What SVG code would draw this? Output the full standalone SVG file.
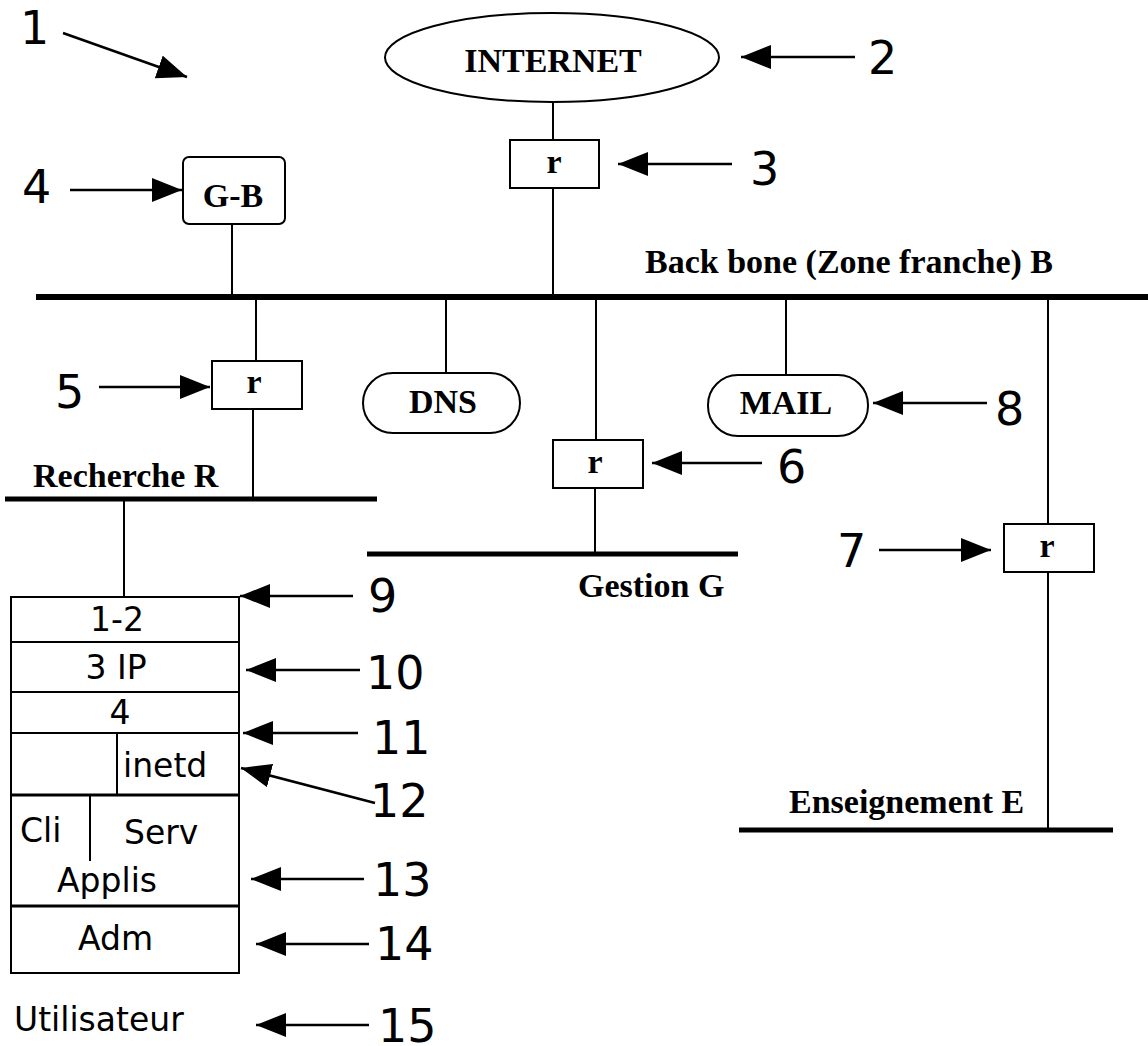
<svg xmlns="http://www.w3.org/2000/svg" width="1148" height="1046" viewBox="0 0 1148 1046">
<style>
  .thin { stroke: #000; stroke-width: 2; fill: none; }
  .bus { stroke: #000; stroke-width: 5; fill: none; }
  .box { stroke: #000; stroke-width: 2; fill: #fff; }
  .arr { stroke: #000; stroke-width: 2.5; fill: none; marker-end: url(#head); }
  .lbl { font-family: "Liberation Serif", "Times New Roman", serif; font-weight: bold; font-size: 34px; fill: #000; }
  .num { font-family: "DejaVu Sans", "Liberation Sans", sans-serif; font-size: 46px; fill: #000; }
  .stk { font-family: "DejaVu Sans", "Liberation Sans", sans-serif; font-size: 33px; fill: #000; }
  .mid { text-anchor: middle; }
</style>
<defs>
  <marker id="head" markerUnits="userSpaceOnUse" markerWidth="30" markerHeight="24" viewBox="0 0 30 24" refX="30" refY="12" orient="auto">
    <path d="M0,0 L30,12 L0,24 Z" fill="#000"/>
  </marker>
</defs>
<rect width="1148" height="1046" fill="#fff"/>

<g id="networks">
  <g id="backbone">
    <line class="bus" x1="36" y1="297" x2="1148" y2="297" style="stroke-width:6"/>
    <text class="lbl" x="645" y="273">Back bone (Zone franche) B</text>
  </g>
  <g id="recherche">
    <line class="bus" x1="5" y1="499" x2="377" y2="499"/>
    <text class="lbl" x="33" y="487">Recherche R</text>
  </g>
  <g id="gestion">
    <line class="bus" x1="367" y1="554" x2="738" y2="554"/>
    <text class="lbl" x="578" y="597">Gestion G</text>
  </g>
  <g id="enseignement">
    <line class="bus" x1="739" y1="830" x2="1113" y2="830"/>
    <text class="lbl" x="789" y="813">Enseignement E</text>
  </g>
</g>

<g id="connectors">
  <line class="thin" x1="553" y1="102" x2="553" y2="140"/>
  <line class="thin" x1="553" y1="188" x2="553" y2="297"/>
  <line class="thin" x1="232" y1="224" x2="232" y2="297"/>
  <line class="thin" x1="256" y1="297" x2="256" y2="361"/>
  <line class="thin" x1="253" y1="409" x2="253" y2="499"/>
  <line class="thin" x1="124" y1="499" x2="124" y2="597"/>
  <line class="thin" x1="446" y1="297" x2="446" y2="373"/>
  <line class="thin" x1="596" y1="297" x2="596" y2="440"/>
  <line class="thin" x1="595" y1="488" x2="595" y2="554"/>
  <line class="thin" x1="786" y1="297" x2="786" y2="375"/>
  <line class="thin" x1="1048" y1="297" x2="1048" y2="524"/>
  <line class="thin" x1="1048" y1="572" x2="1048" y2="830"/>

  <line class="arr" x1="63" y1="33" x2="187" y2="77"/>
  <line class="arr" x1="855" y1="57" x2="741" y2="57"/>
  <line class="arr" x1="732" y1="164" x2="618" y2="164"/>
  <line class="arr" x1="70" y1="190" x2="182" y2="190"/>
  <line class="arr" x1="99" y1="387" x2="210" y2="387"/>
  <line class="arr" x1="762" y1="463" x2="652" y2="463"/>
  <line class="arr" x1="879" y1="550" x2="991" y2="550"/>
  <line class="arr" x1="987" y1="403" x2="873" y2="403"/>
  <line class="arr" x1="353" y1="596" x2="240" y2="596"/>
  <line class="arr" x1="360" y1="670" x2="246" y2="670"/>
  <line class="arr" x1="358" y1="733" x2="243" y2="733"/>
  <line class="arr" x1="375" y1="803" x2="241" y2="768"/>
  <line class="arr" x1="364" y1="879" x2="251" y2="879"/>
  <line class="arr" x1="369" y1="944" x2="256" y2="944"/>
  <line class="arr" x1="369" y1="1025" x2="256" y2="1025"/>
</g>

<g id="internet">
  <ellipse class="box" cx="552" cy="57.5" rx="167" ry="44.5"/>
  <text class="lbl mid" x="553" y="72">INTERNET</text>
</g>
<g id="router-3">
  <rect class="box" x="510" y="140" width="89" height="48"/>
  <text class="lbl mid" x="554" y="173">r</text>
</g>
<g id="gb">
  <rect class="box" x="183" y="157" width="102" height="67" rx="6"/>
  <text class="lbl mid" x="233" y="207">G-B</text>
</g>
<g id="router-5">
  <rect class="box" x="212" y="361" width="90" height="48"/>
  <text class="lbl mid" x="254" y="393">r</text>
</g>
<g id="dns">
  <rect class="box" x="363" y="373" width="157" height="60" rx="30"/>
  <text class="lbl mid" x="443" y="413">DNS</text>
</g>
<g id="router-6">
  <rect class="box" x="553" y="440" width="90" height="48"/>
  <text class="lbl mid" x="595" y="473">r</text>
</g>
<g id="mail">
  <rect class="box" x="708" y="375" width="160" height="61" rx="30"/>
  <text class="lbl mid" x="786" y="414">MAIL</text>
</g>
<g id="router-7">
  <rect class="box" x="1004" y="524" width="90" height="48"/>
  <text class="lbl mid" x="1047" y="557">r</text>
</g>

<g id="stack">
  <rect class="box" x="11" y="597" width="228" height="376"/>
  <line class="thin" x1="11" y1="642" x2="239" y2="642"/>
  <line class="thin" x1="11" y1="692" x2="239" y2="692"/>
  <line class="thin" x1="11" y1="733" x2="239" y2="733"/>
  <line class="thin" x1="11" y1="795" x2="240" y2="795" style="stroke-width:3"/>
  <line class="thin" x1="11" y1="906" x2="240" y2="906" style="stroke-width:3"/>
  <line class="thin" x1="117" y1="733" x2="117" y2="795"/>
  <line class="thin" x1="90" y1="795" x2="90" y2="861"/>
  <text class="stk mid" x="117" y="631">1-2</text>
  <text class="stk mid" x="116" y="679">3 IP</text>
  <text class="stk mid" x="120" y="724">4</text>
  <text class="stk" x="123" y="777">inetd</text>
  <text class="stk" x="20" y="842">Cli</text>
  <text class="stk" x="124" y="844">Serv</text>
  <text class="stk" x="57" y="892">Applis</text>
  <text class="stk" x="78" y="950">Adm</text>
</g>
<g id="utilisateur">
  <text class="stk" x="14" y="1031">Utilisateur</text>
</g>

<g id="numbers">
  <text class="num" x="20" y="44">1</text>
  <text class="num" x="868" y="74">2</text>
  <text class="num" x="750" y="185">3</text>
  <text class="num" x="22" y="203">4</text>
  <text class="num" x="55" y="408">5</text>
  <text class="num" x="777" y="483">6</text>
  <text class="num" x="837" y="567">7</text>
  <text class="num" x="995" y="425">8</text>
  <text class="num" x="368" y="612">9</text>
  <text class="num" x="366" y="689">10</text>
  <text class="num" x="372" y="754">11</text>
  <text class="num" x="370" y="817">12</text>
  <text class="num" x="373" y="896">13</text>
  <text class="num" x="375" y="960">14</text>
  <text class="num" x="378" y="1042">15</text>
</g>
</svg>
